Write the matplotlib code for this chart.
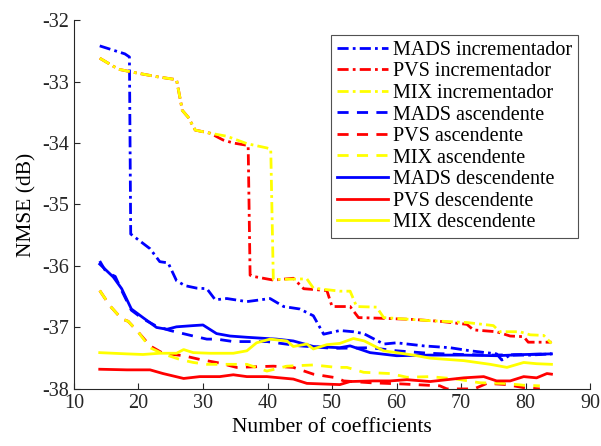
import matplotlib
matplotlib.use("Agg")
import matplotlib.pyplot as plt

plt.rcParams['font.family'] = ['Liberation Serif', 'DejaVu Serif']
plt.rcParams['axes.unicode_minus'] = False

# MADS incrementador
x_mads_inc = [14, 17.9, 18.6, 18.8, 21.8, 23.3, 24.6, 25.9, 27.2, 29.0, 30.6, 31.9, 33.7, 36.8, 40.4, 42.5,
              45.0, 47.1, 48.7, 51.2, 53.3, 54.9, 58, 60, 64.2, 68.3, 71.4, 75.5, 76.3, 77.6, 80.7, 84]
y_mads_inc = [-32.42, -32.55, -32.6, -35.48, -35.72, -35.93, -35.95, -36.24, -36.32, -36.36, -36.37, -36.55,
              -36.53, -36.58, -36.53, -36.66, -36.70, -36.81, -37.11, -37.05, -37.07, -37.1, -37.27, -37.25,
              -37.3, -37.33, -37.38, -37.43, -37.53, -37.45, -37.45, -37.43]

# PVS incrementador
x_pvs_inc = [14, 16.9, 19.7, 22.8, 25.9, 26.8, 27.7, 28.8, 31.1, 33.1, 34.7, 37.0, 37.3, 37.8, 40.9, 44,
             45.6, 49.2, 50, 52.8, 54.1, 57.4, 62.6, 66.7, 70.9, 71.9, 75.5, 77.6, 79.7, 80.4, 84]
y_pvs_inc = [-32.62, -32.8, -32.86, -32.92, -32.97, -33.47, -33.58, -33.79, -33.84, -33.95, -34.0, -34.04,
             -36.15, -36.17, -36.23, -36.2, -36.37, -36.40, -36.66, -36.66, -36.84, -36.85, -36.87, -36.9,
             -36.95, -37.04, -37.07, -37.14, -37.15, -37.24, -37.24]

# MIX incrementador
x_mix_inc = [14, 16.9, 19.7, 22.8, 25.9, 26.8, 27.7, 28.8, 31.1, 33.7, 36.8, 39.9, 40.5, 40.9, 46.1, 47.1,
             51.2, 52.8, 53.8, 56.9, 58, 65.2, 70.9, 75, 76, 79.1, 80.7, 82.8, 84]
y_mix_inc = [-32.62, -32.8, -32.86, -32.92, -32.97, -33.47, -33.58, -33.79, -33.84, -33.89, -34.01, -34.08,
             -34.1, -36.22, -36.21, -36.36, -36.41, -36.41, -36.66, -36.67, -36.84, -36.89, -36.92, -36.97,
             -37.07, -37.07, -37.12, -37.13, -37.26]

# MADS ascendente
x_mads_asc = [14, 15, 16.4, 17.4, 18.9, 20.7, 22.8, 24.9, 28.5, 30.6, 32.1, 34.7, 39.9, 45, 50.2, 56,
              60, 65, 70, 75, 80, 84]
y_mads_asc = [-35.92, -36.1, -36.17, -36.4, -36.72, -36.86, -36.98, -37.05, -37.14, -37.19, -37.19, -37.23,
              -37.23, -37.3, -37.34, -37.33, -37.38, -37.42, -37.44, -37.45, -37.44, -37.43]

# PVS ascendente
x_pvs_asc = [14, 15.6, 17.4, 18.4, 20, 21.8, 23.8, 27, 29.5, 32.6, 35.2, 40.9, 44, 47.1, 50.7, 51.8, 56,
             61, 66.7, 67.8, 72, 74, 77.1, 79.7, 82.2]
y_pvs_asc = [-36.40, -36.65, -36.86, -36.9, -37.08, -37.3, -37.42, -37.46, -37.52, -37.58, -37.65, -37.63,
             -37.65, -37.76, -37.82, -37.87, -37.9, -37.92, -37.95, -38.0, -38.0, -37.91, -37.93, -37.98, -38.0]

# MIX ascendente
x_mix_asc = [14, 15.6, 17.4, 18.4, 20, 21.8, 23.8, 26.4, 28.5, 30.6, 33.7, 36.8, 39.9, 43, 47.1, 50.7,
             52.3, 54.9, 59, 61.6, 65.2, 69.3, 72.9, 76.6, 79.7, 82.2]
y_mix_asc = [-36.40, -36.65, -36.86, -36.9, -37.08, -37.33, -37.43, -37.52, -37.57, -37.6, -37.6, -37.6,
             -37.71, -37.63, -37.61, -37.65, -37.65, -37.73, -37.75, -37.81, -37.8, -37.84, -37.9, -37.91,
             -37.94, -37.95]

# MADS descendente
x_mads_desc = [14, 16.1, 17.4, 18.9, 20.7, 22.8, 24.4, 25.9, 28.5, 30.0, 32.1, 34.2, 36.8, 41.4, 44, 47.1,
               51.2, 52.8, 55.9, 60, 65.2, 70.4, 75.5, 80, 84]
y_mads_desc = [-35.97, -36.18, -36.37, -36.7, -36.84, -37.0, -37.03, -36.99, -36.97, -36.96, -37.1, -37.14,
               -37.16, -37.19, -37.22, -37.31, -37.33, -37.3, -37.41, -37.46, -37.45, -37.45, -37.46, -37.44,
               -37.43]

# PVS descendente
x_pvs_desc = [14, 18.2, 21.8, 23.8, 27, 29.5, 32.6, 34.7, 36.8, 39.9, 44, 46.1, 51.2, 52.8, 56.4, 59,
              61.6, 65.2, 70.4, 73.5, 75.5, 77.6, 79.7, 81.7, 83.3, 84]
y_pvs_desc = [-37.68, -37.69, -37.69, -37.75, -37.83, -37.8, -37.8, -37.77, -37.8, -37.8, -37.84, -37.91,
              -37.93, -37.88, -37.87, -37.87, -37.85, -37.88, -37.82, -37.8, -37.87, -37.87, -37.8, -37.82,
              -37.75, -37.76]

# MIX descendente
x_mix_desc = [14, 18.2, 20.7, 23.3, 25.9, 27, 28.5, 31.1, 34.7, 36.8, 38.3, 40.4, 43, 44, 46.1, 47.1,
              49.2, 51.2, 53.3, 55, 58, 60, 62.6, 65.2, 70.4, 74.5, 77.1, 79.7, 81.7, 84]
y_mix_desc = [-37.41, -37.43, -37.44, -37.42, -37.42, -37.36, -37.41, -37.42, -37.42, -37.38, -37.25, -37.19,
              -37.22, -37.31, -37.27, -37.35, -37.28, -37.26, -37.18, -37.22, -37.38, -37.41, -37.45, -37.5,
              -37.54, -37.6, -37.65, -37.57, -37.59, -37.6]

fig = plt.figure(figsize=(6.01, 4.46), dpi=100)
ax = fig.add_axes([0.123, 0.128, 0.859, 0.827])

lw = 2
dashdot = (0, (4, 1.5, 1, 1.5))
dashed = (0, (4, 3))
ax.plot(x_mads_inc, y_mads_inc, color='blue', linestyle=dashdot, lw=lw, label='MADS incrementador')
ax.plot(x_pvs_inc, y_pvs_inc, color='red', linestyle=dashdot, lw=lw, label='PVS incrementador')
ax.plot(x_mix_inc, y_mix_inc, color='yellow', linestyle=dashdot, lw=lw, label='MIX incrementador')
ax.plot(x_mads_asc, y_mads_asc, color='blue', linestyle=dashed, lw=lw, label='MADS ascendente')
ax.plot(x_pvs_asc, y_pvs_asc, color='red', linestyle=dashed, lw=lw, label='PVS ascendente')
ax.plot(x_mix_asc, y_mix_asc, color='yellow', linestyle=dashed, lw=lw, label='MIX ascendente')
ax.plot(x_mads_desc, y_mads_desc, color='blue', linestyle='-', lw=lw, label='MADS descendente')
ax.plot(x_pvs_desc, y_pvs_desc, color='red', linestyle='-', lw=lw, label='PVS descendente')
ax.plot(x_mix_desc, y_mix_desc, color='yellow', linestyle='-', lw=lw, label='MIX descendente')

ax.set_xlim(10, 90)
ax.set_ylim(-38, -32)
ax.set_xticks(range(10, 91, 10))
ax.set_yticks(range(-38, -31))
ax.spines['top'].set_visible(False)
ax.spines['right'].set_visible(False)
for s in ['left', 'bottom']:
    ax.spines[s].set_color('#262626')
ax.tick_params(direction='in', length=4, labelsize=14.5, colors='#262626')
ax.set_xlabel('Number of coefficients', fontsize=15.5)
ax.set_ylabel('NMSE (dB)', fontsize=15.5)

leg = ax.legend(loc='upper right', bbox_to_anchor=(0.976, 0.96), fontsize=14.5, frameon=True, fancybox=False,
                edgecolor='#262626', handlelength=2.5, handletextpad=0.25, labelspacing=0.12,
                borderpad=0.3, borderaxespad=0)
leg.get_frame().set_linewidth(0.8)

fig.savefig('out.png', dpi=100)
